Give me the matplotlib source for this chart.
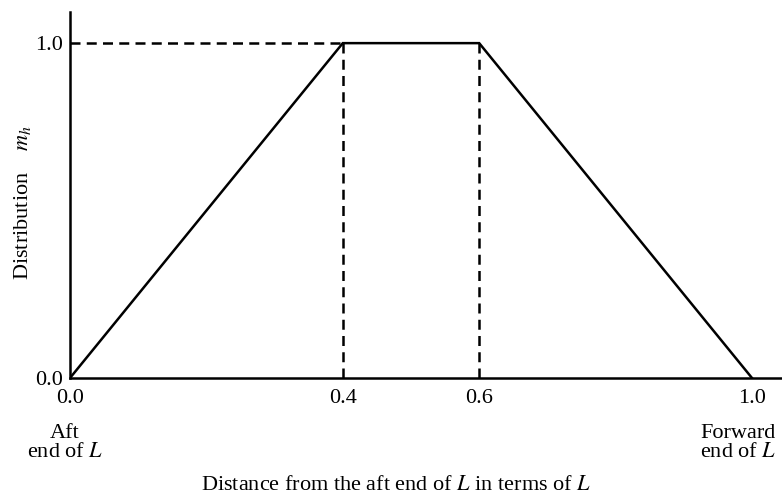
import matplotlib.pyplot as plt

plt.rcParams['font.family'] = 'Liberation Serif'
plt.rcParams['mathtext.fontset'] = 'stix'

# trapezoidal distribution along the length
x = [0.0, 0.4, 0.6, 1.0]
m_h = [0.0, 1.0, 1.0, 0.0]
xticks = [0.0, 0.4, 0.6, 1.0]
ytick_vals = [0.0, 1.0]

FS = 16
LW = 1.8
W, H = 782, 497

fig = plt.figure(figsize=(W / 100, H / 100), dpi=100)
ax = fig.add_axes([70 / W, 1 - 378 / H, (W - 70) / W, (378 - 12) / H])

ax.plot(x, m_h, color='black', lw=LW, solid_joinstyle='miter')
# guide lines at the plateau
dash = (0, (4.0, 2.5))
ax.plot([0, x[1]], [m_h[1], m_h[1]], color='black', lw=LW, ls=dash)
for xv in x[1:3]:
    ax.plot([xv, xv], [0, m_h[1]], color='black', lw=LW, ls=dash)

ax.set_xlim(0, 1.044)
ax.set_ylim(0, 1.093)
for s in ['top', 'right']:
    ax.spines[s].set_visible(False)
ax.spines['left'].set_linewidth(LW)
ax.spines['bottom'].set_linewidth(LW)

ax.set_xticks(xticks)
ax.set_xticklabels(['%.1f' % v for v in xticks])
ax.set_yticks(ytick_vals)
ax.set_yticklabels(['%.1f' % v for v in ytick_vals])
ax.tick_params(length=0, labelsize=FS)
ax.tick_params(axis='x', pad=8)
ax.tick_params(axis='y', pad=5)

fig.text(65 / W, 1 - 443 / H, 'Aft\nend of $L$', ha='center', va='center',
         fontsize=FS, linespacing=1.0)
fig.text(738 / W, 1 - 443 / H, 'Forward\nend of $L$', ha='center', va='center',
         fontsize=FS, linespacing=1.0)

fig.text(396 / W, 1 - 486 / H, 'Distance from the aft end of $L$ in terms of $L$',
         ha='center', va='center', fontsize=FS)
fig.text(23 / W, 1 - 203 / H, r'Distribution $\quad m_{\mathit{h}}$', rotation=90,
         ha='center', va='center', fontsize=FS)

fig.savefig('out.png', dpi=100)
